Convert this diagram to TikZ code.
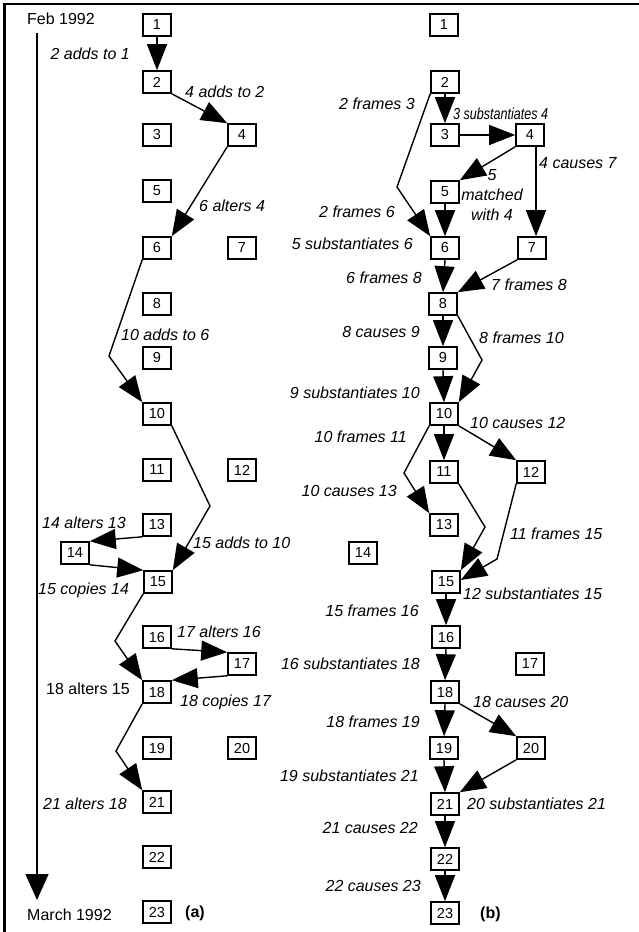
\documentclass[tikz,border=0pt]{standalone}
\usepackage{fontspec}
\setmainfont{Liberation Sans}
\usetikzlibrary{arrows.meta,calc}
\begin{document}
\begin{tikzpicture}[x=1pt,y=-1pt,
 bx/.style={draw,line width=1.6pt,minimum width=28pt,minimum height=22pt,inner sep=0pt,font=\fontsize{14.5}{16}\selectfont},
 lbl/.style={inner sep=0pt,font=\fontsize{16}{20}\selectfont\itshape},
 lblr/.style={inner sep=0pt,font=\fontsize{16}{20}\selectfont},
 arr/.style={line width=1.4pt,-{Triangle[length=26pt,width=20pt]}},
 ln/.style={line width=1.3pt}]
\useasboundingbox (0,0) rectangle (639,932);
% frame
\draw[line width=2.5pt] (4.5,932) -- (4.5,4) -- (639,4);
% timeline
\node[lblr,anchor=base west] (feb) at (27,24) {Feb 1992};
\node[lblr,anchor=base west] (mar) at (27,920) {March 1992};
\coordinate (tl0) at (37,33);
\coordinate (tl1) at (37,900);
\draw[line width=1.5pt,-{Triangle[length=26pt,width=23pt]}] (tl0) -- (tl1);
% ---------------- panel (a)
\node[bx] (a1) at (157,25) {1};
\node[bx] (a2) at (157,82) {2};
\node[bx] (a3) at (157,135) {3};
\node[bx] (a4) at (242,135) {4};
\node[bx] (a5) at (157,191) {5};
\node[bx] (a6) at (157,248) {6};
\node[bx] (a7) at (242,248) {7};
\node[bx] (a8) at (157,304) {8};
\node[bx] (a9) at (157,358) {9};
\node[bx] (a10) at (157,414) {10};
\node[bx] (a11) at (157,470) {11};
\node[bx] (a12) at (242,470) {12};
\node[bx] (a13) at (157,525) {13};
\node[bx] (a14) at (75,553) {14};
\node[bx] (a15) at (158,582) {15};
\node[bx] (a16) at (157,637) {16};
\node[bx] (a17) at (242,664) {17};
\node[bx] (a18) at (157,692) {18};
\node[bx] (a19) at (157,748) {19};
\node[bx] (a20) at (242,748) {20};
\node[bx] (a21) at (157,802) {21};
\node[bx] (a22) at (157,857) {22};
\node[bx] (a23) at (157,912) {23};
\node[inner sep=0pt,font=\fontsize{16}{20}\selectfont\bfseries,anchor=base west] (capa) at (185,917) {(a)};
% connectors (a)
\draw[arr] (a1.south) -- (a2.north);
\draw[arr] (a2.south east) -- (a4.north west);
\draw[arr] (a4.south west) -- (a6.north east);
\coordinate (ka1) at (109,356);
\draw[arr] (a6.south west) -- (ka1) -- (a10.north west);
\coordinate (ka2) at (210,506);
\draw[arr] (a10.south east) -- (ka2) -- (a15.north east);
\draw[arr] (a13.south west) -- (a14.north east);
\draw[arr] (a14.south east) -- (a15.north west);
\coordinate (ka3) at (115,641);
\draw[arr] (a15.south west) -- (ka3) -- (a18.north west);
\draw[arr] (a16.south east) -- (a17.north west);
\draw[arr] (a17.south west) -- (a18.north east);
\coordinate (ka4) at (116,751);
\draw[arr] (a18.south west) -- (ka4) -- (a21.north west);
% labels (a)
\node[lbl,anchor=base east] (la1) at (130,59) {2 adds to 1};
\node[lbl,anchor=base west] (la2) at (185,97) {4 adds to 2};
\node[lbl,anchor=base west] (la3) at (199,211) {6 alters 4};
\node[lbl,anchor=base west] (la4) at (121,340) {10 adds to 6};
\node[lbl,anchor=base west] (la5) at (193,548) {15 adds to 10};
\node[lbl,anchor=base west] (la6) at (42,528) {14 alters 13};
\node[lbl,anchor=base west] (la7) at (38,594) {15 copies 14};
\node[lblr,anchor=base west] (la8) at (46,694) {18 alters 15};
\node[lbl,anchor=base west] (la9) at (177,637) {17 alters 16};
\node[lbl,anchor=base west] (la10) at (180,706) {18 copies 17};
\node[lbl,anchor=base west] (la11) at (43,809) {21 alters 18};
% ---------------- panel (b)
\node[bx] (b1) at (444,25) {1};
\node[bx] (b2) at (445,82) {2};
\node[bx] (b3) at (445,135) {3};
\node[bx] (b4) at (530,135) {4};
\node[bx] (b5) at (445,192) {5};
\node[bx] (b6) at (445,248) {6};
\node[bx] (b7) at (532,248) {7};
\node[bx] (b8) at (443,304) {8};
\node[bx] (b9) at (443,358) {9};
\node[bx] (b10) at (444,414) {10};
\node[bx] (b11) at (444,472) {11};
\node[bx] (b12) at (531,472) {12};
\node[bx] (b13) at (444,525) {13};
\node[bx] (b14) at (363,553) {14};
\node[bx] (b15) at (446,582) {15};
\node[bx] (b16) at (446,637) {16};
\node[bx] (b17) at (530,664) {17};
\node[bx] (b18) at (445,692) {18};
\node[bx] (b19) at (444,748) {19};
\node[bx] (b20) at (531,748) {20};
\node[bx] (b21) at (445,804) {21};
\node[bx] (b22) at (445,859) {22};
\node[bx] (b23) at (445,913) {23};
\node[inner sep=0pt,font=\fontsize{16}{20}\selectfont\bfseries,anchor=base west] (capb) at (480,918) {(b)};
% connectors (b)
\draw[arr] (b2.south) -- (b3.north);
\coordinate (kb1) at (397,187);
\draw[arr] (b2.south west) -- (kb1) -- (b6.north west);
\draw[arr] (b3.east) -- (b4.west);
\draw[arr] (b4.south west) -- (b5.north east);
\draw[arr] ($(b4.south)+(6,0)$) -- ($(b7.north)+(4,0)$);
\draw[arr] (b5.south) -- (b6.north);
\draw[arr] (b6.south) -- (b8.north);
\draw[arr] (b7.south west) -- (b8.north east);
\draw[arr] (b8.south) -- (b9.north);
\coordinate (kb2) at (482,360);
\draw[arr] (b8.south east) -- (kb2) -- (b10.north east);
\draw[arr] (b9.south) -- (b10.north);
\draw[arr] (b10.south) -- (b11.north);
\draw[arr] (b10.south east) -- (b12.north west);
\coordinate (kb3) at (404,473);
\draw[arr] (b10.south west) -- (kb3) -- (b13.north west);
\coordinate (kb4) at (485,527);
\draw[arr] (b11.south east) -- (kb4) -- (b15.north east);
\coordinate (kb5) at (497,559);
\draw[arr] (b12.south west) -- (kb5) -- ($(b15.east)+(0,-2)$);
\draw[arr] (b15.south) -- (b16.north);
\draw[arr] (b16.south) -- (b18.north);
\draw[arr] (b18.south) -- (b19.north);
\draw[arr] (b18.south east) -- (b20.north west);
\draw[arr] (b19.south) -- (b21.north);
\draw[arr] (b20.south west) -- (b21.north east);
\draw[arr] (b21.south) -- (b22.north);
\draw[arr] (b22.south) -- (b23.north);
% labels (b)
\node[lbl,anchor=base east] (lb1) at (415,109) {2 frames 3};
\node[lbl,anchor=base east] (lb2) at (395,217) {2 frames 6};
\node[lbl,anchor=base west] (lb3) at (453,119) {\scalebox{0.785}[1]{3 substantiates 4}};
\node[lbl,align=center] (lb4) at (492,195) {5\\matched\\with 4};
\node[lbl,anchor=base west] (lb5) at (539,168) {4 causes 7};
\node[lbl,anchor=base east] (lb6) at (413,249) {5 substantiates 6};
\node[lbl,anchor=base east] (lb7) at (422,283) {6 frames 8};
\node[lbl,anchor=base west] (lb8) at (491,290) {7 frames 8};
\node[lbl,anchor=base east] (lb9) at (420,337) {8 causes 9};
\node[lbl,anchor=base west] (lb10) at (479,343) {8 frames 10};
\node[lbl,anchor=base east] (lb11) at (420,398) {9 substantiates 10};
\node[lbl,anchor=base east] (lb12) at (407,442) {10 frames 11};
\node[lbl,anchor=base west] (lb13) at (470,428) {10 causes 12};
\node[lbl,anchor=base east] (lb14) at (397,496) {10 causes 13};
\node[lbl,anchor=base west] (lb15) at (510,539) {11 frames 15};
\node[lbl,anchor=base west] (lb16) at (463,599) {12 substantiates 15};
\node[lbl,anchor=base east] (lb17) at (419,616) {15 frames 16};
\node[lbl,anchor=base east] (lb18) at (420,669) {16 substantiates 18};
\node[lbl,anchor=base east] (lb19) at (420,727) {18 frames 19};
\node[lbl,anchor=base west] (lb20) at (473,707) {18 causes 20};
\node[lbl,anchor=base east] (lb21) at (419,781) {19 substantiates 21};
\node[lbl,anchor=base west] (lb22) at (467,809) {20 substantiates 21};
\node[lbl,anchor=base east] (lb23) at (418,833) {21 causes 22};
\node[lbl,anchor=base east] (lb24) at (421,891) {22 causes 23};
\end{tikzpicture}
\end{document}
